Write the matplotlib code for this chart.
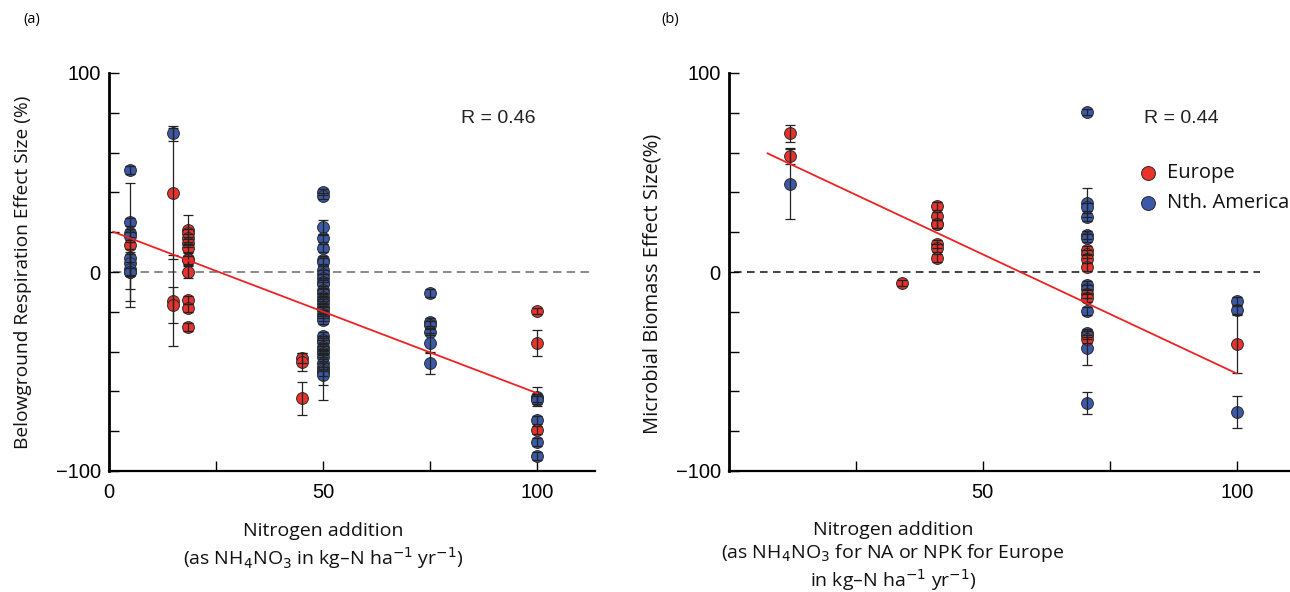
import numpy as np
import matplotlib.pyplot as plt

# ---- panel (a): belowground respiration ----
a_eu_x = [5, 15, 15, 15, 18.5, 18.5, 18.5, 18.5, 18.5, 18.5, 18.5, 18.5, 18.5, 18.5, 18.5,
          45, 45, 45, 100, 100, 100]
a_eu_y = [13.5, 39.5, -14.4, -16.6, 21, 19.4, 16.9, 14.7, 11.9, 6.4, 6, 0, -14, -18.2, -27.4,
          -43.3, -45, -63.4, -19.6, -35.6, -79.3]
a_eu_e = [31, 33, 23, 9, 7.5, 2, 2, 2, 2, 3, 2, 3, 2, 2, 2,
          2.5, 4.5, 8.3, 1.5, 6.5, 2]

a_na_x = [5] * 9 + [15] + [50] * 34 + [75] * 6 + [100] * 6
a_na_y = [51.2, 25.2, 19.7, 18, 7.2, 4.3, 1.5, 0.2, 0,
          69.6,
          40.3, 38.1, 22.4, 16.9, 11.9, 6, 5, 1, -1, -3, -5, -6, -9, -10.5, -12.4,
          -14, -15.7, -17.5, -19, -21, -22.4, -24, -32.4, -34, -35, -37.5, -39, -40.8,
          -42.5, -45.8, -47.5, -49.2, -50.5, -51.7,
          -10.4, -24.9, -26.6, -29.9, -35.8, -45.8,
          -62.6, -63.4, -64.2, -74.6, -85.6, -92.7]
a_na_e = [2, 2, 2, 2, 2, 6, 10, 15, 2,
          4,
          1.5, 1.5, 3.7, 2, 2, 2, 2, 2, 2, 2, 2, 2, 2, 2, 2,
          2, 2, 2, 2, 2, 2, 2, 2, 2, 2, 2, 2, 2,
          2, 2, 2, 7.5, 2, 12.5,
          2, 2, 2, 2, 5, 5.5,
          4.6, 2, 2, 2, 2, 2]

# ---- panel (b): microbial biomass ----
b_eu_x = [12, 12, 34, 41, 41, 41, 41, 41, 41, 41, 70.5, 70.5, 70.5, 70.5, 70.5, 70.5, 70.5, 100]
b_eu_y = [69.7, 58.3, -5.4, 33.2, 28.2, 24.3, 24, 14.3, 12.2, 7.2,
          10.9, 8.9, 6.4, 2.5, -11.2, -12.9, -33.9, -36.4]
b_eu_e = [4.2, 4, 1.5, 2, 2, 2, 2, 2, 2, 2, 2, 2, 2, 2, 2, 2, 2, 14.6]

b_na_x = [12] + [70.5] * 13 + [100] * 3
b_na_y = [44.2, 80.3, 34.9, 32.7, 27.4, 18.6, 17, -6.5, -8.7, -19.6, -30.6, -31.5, -38.1, -65.8,
          -14.6, -19.3, -70.4]
b_na_e = [17.7, 1.5, 7.3, 2, 2, 2, 2, 2, 2, 2, 2, 2, 8.4, 5.7, 2, 2, 8.2]

# regression lines (start, end)
a_fit_x = [1, 100]
a_fit_y = [20.2, -60.9]
b_fit_x = [7.6, 100]
b_fit_y = [59.6, -51]

red = '#e8322b'
blue = '#3b59a8'

plt.rcParams['font.family'] = ['Liberation Sans', 'DejaVu Sans']
fig = plt.figure(figsize=(12.9, 5.92), dpi=100)
ax1 = fig.add_axes([109 / 1290, 1 - 471 / 592, (595 - 109) / 1290, 398 / 592])
ax2 = fig.add_axes([729 / 1290, 1 - 471 / 592, (1290 - 729) / 1290, 398 / 592])


def points(ax, x, y, e, col):
    ax.plot(x, y, 'o', ms=8.5, mfc=col, mec='#2a2a2a', mew=0.7, zorder=3, ls='none')
    ax.errorbar(x, y, yerr=e, fmt='none', ecolor='#222222', elinewidth=0.9,
                capsize=3.5, capthick=0.9, zorder=4)


def style(ax, xlim):
    ax.set_ylim(-100, 100)
    ax.set_xlim(*xlim)
    ax.spines['top'].set_visible(False)
    ax.spines['right'].set_visible(False)
    ax.spines['left'].set_linewidth(2)
    ax.spines['bottom'].set_linewidth(1.6)
    ax.set_yticks([-100, 0, 100])
    ax.set_yticks(np.arange(-100, 101, 20), minor=True)
    ax.tick_params(which='both', direction='in', labelsize=14.5)
    ax.tick_params(axis='y', pad=6)
    ax.tick_params(axis='x', pad=9)
    ax.tick_params(which='major', length=7, width=1)
    ax.tick_params(which='minor', length=7, width=1)
    ax.set_yticklabels(['\u2212100', '0', '100'])


points(ax1, a_na_x, a_na_y, a_na_e, blue)
points(ax1, a_eu_x, a_eu_y, a_eu_e, red)
ax1.plot(a_fit_x, a_fit_y, color='#ee2222', lw=1.3, zorder=5)
ax1.plot([1, 113], [0, 0], ls=(0, (5.5, 3.5)), color='#6a6a6a', lw=1.1, zorder=1)
style(ax1, (0, 113.5))
ax1.set_xticks([0, 50, 100])
ax1.set_xticks([25, 75], minor=True)
ax1.text(99.5, 77, 'R = 0.46', ha='right', va='center', fontsize=14, color='#222222')

points(ax2, b_na_x, b_na_y, b_na_e, blue)
points(ax2, b_eu_x, b_eu_y, b_eu_e, red)
ax2.plot(b_fit_x, b_fit_y, color='#ee2222', lw=1.3, zorder=5)
ax2.plot([1, 104.5], [0, 0], ls=(0, (5, 3.5)), color='#111111', lw=1.1, zorder=1)
style(ax2, (0, 110.5))
ax2.set_xticks([50, 100])
ax2.set_xticks([25, 75], minor=True)
ax2.text(81.8, 77, 'R = 0.44', ha='left', va='center', fontsize=14, color='#222222')

# legend drawn by hand as in the original
ax2.plot([82.6], [49.5], 'o', ms=10, mfc=red, mec='#2a2a2a', mew=0.7, clip_on=False)
ax2.plot([82.6], [34.7], 'o', ms=10, mfc=blue, mec='#2a2a2a', mew=0.7, clip_on=False)
lab = dict(family=['Open Sans', 'DejaVu Sans'], fontsize=14.5, va='center', color='#111111')
ax2.text(86.2, 49.5, 'Europe', **lab)
ax2.text(86.2, 34.7, 'Nth. America', **lab)

labfont = dict(family=['Open Sans', 'DejaVu Sans'], fontsize=14.5, color='#111111')
ax1.set_ylabel('Belowground Respiration Effect Size (%)', fontsize=13.8,
               family=['Open Sans', 'DejaVu Sans'], color='#111111')
ax1.yaxis.set_label_coords(-0.158, 0.5)
ax2.set_ylabel('Microbial Biomass Effect Size(%)', **labfont)
ax2.yaxis.set_label_coords(-0.119, 0.47)
xl = dict(family=['Open Sans', 'DejaVu Sans'], fontsize=14, color='#111111')
fig.text(323 / 1290, 1 - 522 / 592,
         'Nitrogen addition\n(as NH$_4$NO$_3$ in kg\u2013N ha$^{-1}$ yr$^{-1}$)',
         ha='center', va='top', linespacing=1.28, **xl)
fig.text(893 / 1290, 1 - 521 / 592,
         'Nitrogen addition\n(as NH$_4$NO$_3$ for NA or NPK for Europe\nin kg\u2013N ha$^{-1}$ yr$^{-1}$)',
         ha='center', va='top', linespacing=1.18, **xl)

fig.text(23 / 1290, 1 - 20 / 592, '(a)', fontsize=10.5, va='center',
         family=['Open Sans', 'DejaVu Sans'])
fig.text(661 / 1290, 1 - 20 / 592, '(b)', fontsize=10.5, va='center',
         family=['Open Sans', 'DejaVu Sans'])

fig.savefig('out.png', dpi=100)
